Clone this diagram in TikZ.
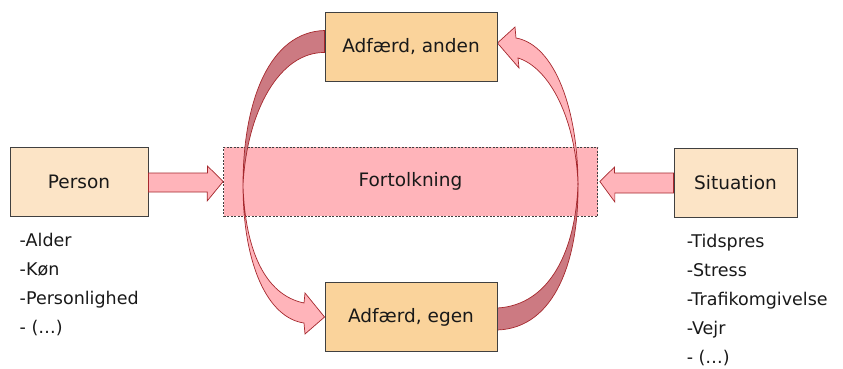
\documentclass[tikz,border=0pt]{standalone}
\usepackage{fontspec}
\setmainfont{DejaVu Sans}
\usetikzlibrary{positioning,backgrounds}
\definecolor{lysbox}{RGB}{252,228,198}
\definecolor{adfbox}{RGB}{250,211,155}
\definecolor{rosa}{RGB}{255,180,186}
\definecolor{bagside}{RGB}{204,122,130}
\definecolor{pilrand}{RGB}{165,40,45}
\definecolor{boxrand}{RGB}{64,64,64}
\tikzset{
  kasse/.style={draw=boxrand, line width=0.9pt, fill=lysbox, text=black!90,
    font=\fontsize{18.5}{22}\selectfont, minimum width=138pt, minimum height=69pt, inner sep=0pt},
  adf/.style={kasse, fill=adfbox, minimum width=172pt},
  liste/.style={align=left, inner sep=0pt, text=black!90, font=\fontsize{17.5}{29}\selectfont},
  pil/.style={draw=pilrand, line width=0.7pt, fill=rosa},
  bag/.style={pil, fill=bagside}
}

\begin{document}
\begin{tikzpicture}[x=1pt,y=-1pt]
  \useasboundingbox (0,0) rectangle (843,369);
  \node[kasse] (person) at (79,182) {Person};
  \node[kasse, minimum width=123pt] (situation) at (735.5,182.5) {Situation};
  \node[adf] (anden) at (411,46.5) {Adfærd, anden};
  \node[adf] (egen) at (411,317) {Adfærd, egen};
  \node[liste, below right=16pt and 10pt of person.south west] (personliste)
    {-Alder\\-Køn\\-Personlighed\\- (…)};
  \node[liste, below right=17pt and 13pt of situation.south west] (situationliste)
    {-Tidspres\\-Stress\\-Trafikomgivelse\\-Vejr\\- (…)};
  \begin{scope}[on background layer]
    \node[kasse, fill=rosa, draw=black!75, line width=0.7pt, dash pattern=on 2pt off 1.5pt,
      minimum width=374pt] (fortolkning) at (410.5,181.5) {Fortolkning};
    % venstre sloejfe
    \draw[bag] ([yshift=16pt]anden.west) .. controls (270,32) and (243,100) .. (243,185)
      .. controls (247,110) and (280,52) .. ([yshift=-6pt]anden.west) -- cycle;
    \draw[pil] (243,185) .. controls (245,250) and (265,295) .. (304,303) -- (305,293) -- (egen.west)
      -- (305,334) -- (304,323) .. controls (268,318) and (243,265) .. (243,185) -- cycle;
    % hoejre sloejfe
    \draw[bag] ([yshift=-13pt]egen.east) .. controls (555,328) and (579,260) .. (578,183)
      .. controls (576,250) and (550,305) .. ([yshift=9pt]egen.east) -- cycle;
    \draw[pil] (578,185) .. controls (578,110) and (555,45) .. (516,38) -- (515,27) -- ([yshift=3.5pt]anden.east)
      -- (519,68) -- (518,58) .. controls (550,68) and (576,120) .. (578,185) -- cycle;
  \end{scope}
  % pile ind mod fortolkningen
  \draw[pil] ([yshift=9pt]person.east) -- ++(59,0) -- ++(0,-7) -- (fortolkning.west)
    -- ++(-16,19.5) -- ++(0,-9) -- ([yshift=-10pt]person.east) -- cycle;
  \draw[pil] ([yshift=9.5pt]situation.west) -- ++(-59,0) -- ++(0,-6) -- ([xshift=2pt]fortolkning.east)
    -- ++(15,20.5) -- ++(0,-9) -- ([yshift=-10.5pt]situation.west) -- cycle;
\end{tikzpicture}
\end{document}
